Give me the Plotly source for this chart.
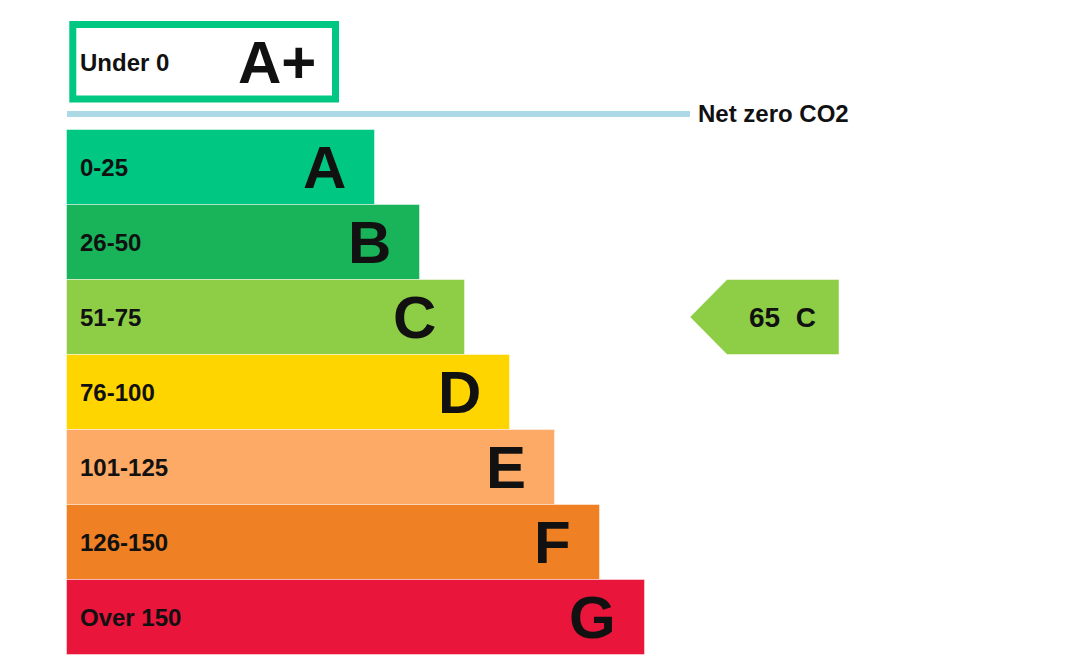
import plotly.graph_objects as go

# bandas de emissao (kg CO2/m2) e notas
bands = ['A', 'B', 'C', 'D', 'E', 'F', 'G']
ranges = ['0-25', '26-50', '51-75', '76-100', '101-125', '126-150', 'Over 150']
bar_len = [308, 353, 398, 443, 488, 533, 578]
colors = ['#00c781', '#19b459', '#8dce46', '#ffd500', '#fcaa65', '#ef8023', '#e9153b']

top_band = 'A+'
top_range = 'Under 0'
top_color = '#00c781'
net_zero_label = 'Net zero CO2'
net_zero_color = '#add8e6'

current_score = 65
current_band = 'C'

FONT = 'Arial, Liberation Sans, sans-serif'
INK = '#111111'

rows = list(range(1, len(bands) + 1))
row_of = dict(zip(bands, rows))

fig = go.Figure()

fig.add_trace(go.Bar(
    x=bar_len, y=rows, base=0, orientation='h', width=1,
    marker=dict(color=colors, line=dict(color='rgba(255,255,255,0.45)', width=1)),
    hoverinfo='skip', showlegend=False,
))

# rotulos das faixas e letras
for r, rg, b, L in zip(rows, ranges, bands, bar_len):
    fig.add_annotation(x=11, y=r, text=rg, showarrow=False, xanchor='left', yanchor='middle',
                       font=dict(family=FONT, size=24, color=INK, weight='bold'))
    fig.add_annotation(x=L - 27, y=r, text=b, showarrow=False, xanchor='right', yanchor='middle',
                       font=dict(family=FONT, size=60, color=INK, weight='bold'))

# caixa A+
fig.add_shape(type='rect', x0=5.8, x1=268.5, y0=-0.9, y1=0.093,
              line=dict(color=top_color, width=7), fillcolor='white')
fig.add_annotation(x=11, y=-0.4, text=top_range, showarrow=False, xanchor='left', yanchor='middle',
                   font=dict(family=FONT, size=24, color=INK, weight='bold'))
fig.add_annotation(x=251, y=-0.4, text=top_band, showarrow=False, xanchor='right', yanchor='middle',
                   font=dict(family=FONT, size=60, color=INK, weight='bold'))

# linha net zero
fig.add_shape(type='line', x0=0, x1=623, y0=0.293, y1=0.293,
              line=dict(color=net_zero_color, width=6))
fig.add_annotation(x=629, y=0.293, text=net_zero_label, showarrow=False, xanchor='left', yanchor='middle',
                   font=dict(family=FONT, size=24, color=INK, weight='bold'))

# seta da nota atual
cr = row_of[current_band]
tip, notch, right = 623, 660, 772
fig.add_shape(type='path',
              path=f'M {tip},{cr} L {notch},{cr - 0.5} L {right},{cr - 0.5} L {right},{cr + 0.5} L {notch},{cr + 0.5} Z',
              fillcolor=colors[cr - 1], line=dict(color='rgba(255,255,255,0.45)', width=1))
fig.add_annotation(x=(notch + right) / 2 - 1, y=cr, text=f'{current_score}\u00a0\u00a0{current_band}',
                   showarrow=False, xanchor='center', yanchor='middle',
                   font=dict(family=FONT, size=28, color=INK, weight='bold'))

fig.update_layout(
    width=1072, height=670,
    margin=dict(l=0, r=0, t=0, b=0),
    paper_bgcolor='white', plot_bgcolor='white',
    xaxis=dict(range=[-59, 1013], visible=False, fixedrange=True),
    yaxis=dict(range=[7.8133, -1.12], visible=False, fixedrange=True),
    bargap=0,
)

fig.write_html("out.html", config={'displayModeBar': False})
